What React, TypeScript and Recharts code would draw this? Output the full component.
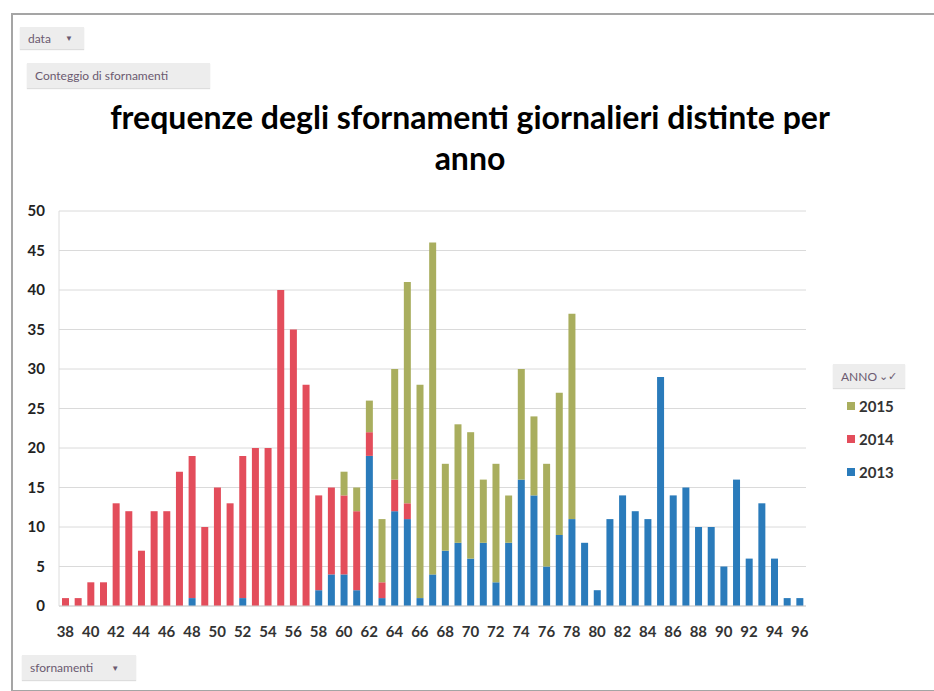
import React from 'react';
import { BarChart, Bar, XAxis, YAxis, CartesianGrid } from 'recharts';

const categories = [
  38, 39, 40, 41, 42, 43, 44, 45, 46, 47, 48, 49, 50, 51, 52, 53, 54, 55, 56, 57,
  58, 59, 60, 61, 62, 63, 64, 65, 66, 67, 68, 69, 70, 71, 72, 73, 74, 75, 76, 77,
  78, 79, 80, 81, 82, 83, 84, 85, 86, 87, 88, 89, 90, 91, 92, 93, 94, 95, 96,
];

const values2013 = [
  0, 0, 0, 0, 0, 0, 0, 0, 0, 0, 1, 0, 0, 0, 1, 0, 0, 0, 0, 0,
  2, 4, 4, 2, 19, 1, 12, 11, 1, 4, 7, 8, 6, 8, 3, 8, 16, 14, 5, 9,
  11, 8, 2, 11, 14, 12, 11, 29, 14, 15, 10, 10, 5, 16, 6, 13, 6, 1, 1,
];

const values2014 = [
  1, 1, 3, 3, 13, 12, 7, 12, 12, 17, 18, 10, 15, 13, 18, 20, 20, 40, 35, 28,
  12, 11, 10, 10, 3, 2, 4, 2, 0, 0, 0, 0, 0, 0, 0, 0, 0, 0, 0, 0,
  0, 0, 0, 0, 0, 0, 0, 0, 0, 0, 0, 0, 0, 0, 0, 0, 0, 0, 0,
];

const values2015 = [
  0, 0, 0, 0, 0, 0, 0, 0, 0, 0, 0, 0, 0, 0, 0, 0, 0, 0, 0, 0,
  0, 0, 3, 3, 4, 8, 14, 28, 27, 42, 11, 15, 16, 8, 15, 6, 14, 10, 13, 18,
  26, 0, 0, 0, 0, 0, 0, 0, 0, 0, 0, 0, 0, 0, 0, 0, 0, 0, 0,
];

const yTicks = [0, 5, 10, 15, 20, 25, 30, 35, 40, 45, 50];

const series = [
  { key: 'y2013', name: '2013', color: '#2a7bbb' },
  { key: 'y2014', name: '2014', color: '#e34d5b' },
  { key: 'y2015', name: '2015', color: '#a9ae5e' },
];

const data = categories.map((c, i) => ({
  x: c,
  y2013: values2013[i],
  y2014: values2014[i],
  y2015: values2015[i],
}));

const btn: React.CSSProperties = {
  position: 'absolute',
  background: '#ededed',
  color: '#6b5a70',
  fontFamily: 'Lato, sans-serif',
  fontSize: 12,
  padding: '0 8px',
  display: 'flex',
  alignItems: 'center',
  boxShadow: '0 1px 1px #ddd',
};

const LegendBox = () => (
  <div style={{ position: 'absolute', left: 833, top: 364, width: 100, fontFamily: 'Lato, sans-serif' }}>
    <div style={{ ...btn, position: 'relative', width: 56, height: 24, justifyContent: 'space-between' }}>
      <span>ANNO</span>
      <span style={{ fontSize: 11 }}>⌄✓</span>
    </div>
    {[...series].reverse().map((s, i) => (
      <div key={s.key} style={{ display: 'flex', alignItems: 'center', marginTop: i === 0 ? 9 : 15, marginLeft: 14 }}>
        <span style={{ width: 8, height: 8, background: s.color, marginRight: 4 }} />
        <span style={{ fontSize: 15, fontWeight: 700, color: '#333' }}>{s.name}</span>
      </div>
    ))}
  </div>
);

export default function App() {
  return (
    <div style={{ position: 'absolute', left: 0, top: 0, width: 934, height: 691, background: '#fff', overflow: 'hidden' }}>
      <div style={{ position: 'absolute', left: 11, top: 13, width: 960, height: 675, border: '2px solid #a5a5a5' }} />
      <div style={{ ...btn, left: 20, top: 27, height: 22, width: 48 }}>data <span style={{ marginLeft: 14, fontSize: 8 }}>▼</span></div>
      <div style={{ ...btn, left: 27, top: 63, height: 25, width: 167 }}>Conteggio di sfornamenti</div>
      <div style={{ ...btn, left: 22, top: 655, height: 25, width: 98 }}>sfornamenti <span style={{ marginLeft: 18, fontSize: 8 }}>▼</span></div>
      <div
        style={{
          position: 'absolute',
          left: 0,
          top: 96,
          width: 940,
          textAlign: 'center',
          fontFamily: 'Lato, sans-serif',
          fontWeight: 700,
          fontSize: 32,
          lineHeight: '41px',
          color: '#000',
        }}
      >
        frequenze degli sfornamenti giornalieri distinte per
        <br />
        anno
      </div>
      <BarChart
        width={934}
        height={691}
        data={data}
        margin={{ top: 211, right: 128, bottom: 55, left: 10 }}
        barSize={7}
        style={{ position: 'absolute', left: 0, top: 0 }}
      >
        <CartesianGrid vertical={false} stroke="#dadada" />
        <XAxis
          dataKey="x"
          height={30}
          interval={1}
          tickLine={false}
          tickSize={0}
          tickMargin={20}
          axisLine={{ stroke: '#d0d0d0' }}
          tick={{ fill: '#333', fontSize: 15, fontWeight: 700, fontFamily: 'Lato, sans-serif' }}
        />
        <YAxis
          width={49}
          domain={[0, 50]}
          ticks={yTicks}
          tickLine={false}
          tickSize={0}
          tickMargin={14}
          axisLine={{ stroke: '#dcdcdc' }}
          tick={{ fill: '#222', fontSize: 15, fontWeight: 700, fontFamily: 'Lato, sans-serif' }}
        />
        {series.map((s) => (
          <Bar key={s.key} dataKey={s.key} name={s.name} stackId="a" fill={s.color} isAnimationActive={false} />
        ))}
      </BarChart>
      <LegendBox />
    </div>
  );
}
